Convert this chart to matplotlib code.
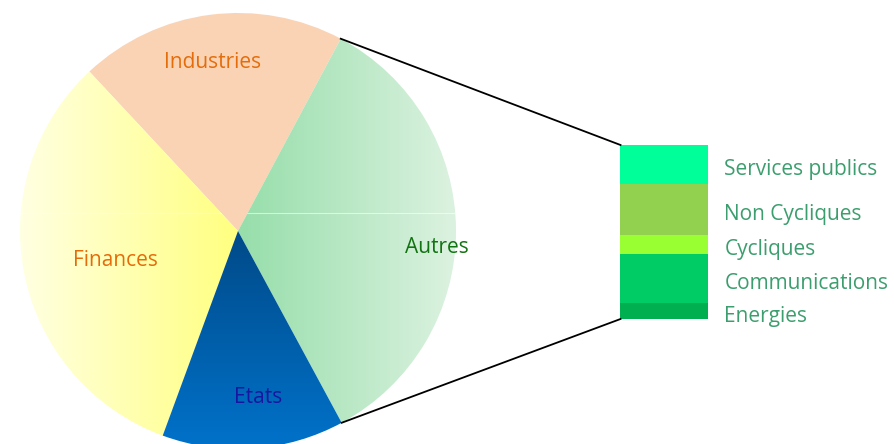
import matplotlib
matplotlib.use("Agg")
import matplotlib.pyplot as plt
import numpy as np
from matplotlib.colors import LinearSegmentedColormap

# main pie (percent)
main_labels = ["Autres", "Industries", "Finances", "Etats"]
main_values = [34.3, 19.75, 32.45, 13.5]
main_label_colors = ["#127312", "#E46C0A", "#E46C0A", "#1616A0"]
# label placement: (angle shift from wedge middle in degrees, radius fraction)
main_label_pos = [(-4.4, 0.915), (0.9, 0.79), (1.1, 0.574), (2.9, 0.758)]

# breakdown of "Autres", bottom to top
sub_labels = ["Energies", "Communications", "Cycliques", "Non Cycliques", "Services publics"]
sub_values = [3.15, 9.65, 3.75, 10.05, 7.7]
sub_colors = ["#00B050", "#00CC66", "#99FF33", "#92D050", "#00FF99"]

plt.rcParams["font.family"] = ["Open Sans", "DejaVu Sans"]

W, H = 895, 444
fig = plt.figure(figsize=(W / 100, H / 100), dpi=100)
ax = fig.add_axes([0, 0, 1, 1])

cx, cy, r = 238, 213, 218
wedges, _ = ax.pie(main_values, startangle=-61.6, counterclock=True,
                   center=(cx, cy), radius=r, frame=True)
ax.set_autoscale_on(False)

# gradient fills, clipped to each wedge
grads = {
    "Autres": ("h", "#96DEAA", "#DCF2E0", cx, cx + r),
    "Finances": ("h", "#FFFFE2", "#FFFF80", cx - r, cx),
    "Etats": ("v", "#0072CA", "#004A88", cy - r, cy),
}
for w, name in zip(wedges, main_labels):
    w.set_edgecolor("none")
    if name == "Industries":
        w.set_facecolor("#FAD3B5")
        continue
    kind, c0, c1, a, b = grads[name]
    w.set_facecolor("none")
    cmap = LinearSegmentedColormap.from_list(name, [c0, c1])
    g = np.linspace(0, 1, 256)
    if kind == "h":
        arr = g[None, :]
        ext = [a, b, cy - r, cy + r]
    else:
        arr = g[:, None]
        ext = [cx - r, cx + r, a, b]
    im = ax.imshow(arr, extent=ext, cmap=cmap, origin="lower",
                   aspect="auto", interpolation="bilinear", zorder=1)
    im.set_clip_path(w)

# faint seam line across the gradient wedges
for w in (wedges[0], wedges[2]):
    seam, = ax.plot([cx - r, cx + r], [cy + 18, cy + 18], color="white",
                    lw=0.8, alpha=0.6, zorder=2)
    seam.set_clip_path(w)

for w, name, col, (da, d) in zip(wedges, main_labels, main_label_colors, main_label_pos):
    mid = np.deg2rad((w.theta1 + w.theta2) / 2 + da)
    ax.text(cx + d * r * np.cos(mid), cy + d * r * np.sin(mid) - 2, name,
            color=col, fontsize=15, ha="center", va="center", zorder=3)

# stacked bar for the breakdown
bar_x, bar_w = 664.5, 88
bar_bottom, bar_h = 125, 174
scale = bar_h / sum(sub_values)
bottom = bar_bottom
for lab, v, col in zip(sub_labels, sub_values, sub_colors):
    ax.bar(bar_x, v * scale, bottom=bottom, width=bar_w, color=col, zorder=2)
    ax.text(bar_x + bar_w / 2 + 16, bottom + v * scale / 2 - 5, lab,
            color="#3C9E6E", fontsize=15, ha="left", va="center")
    bottom += v * scale

# lines from the "Autres" wedge to the bar
aw = wedges[0]
for th, by in [(aw.theta2, bar_bottom + bar_h), (aw.theta1, bar_bottom)]:
    t = np.deg2rad(th)
    ax.plot([cx + r * np.cos(t), bar_x - bar_w / 2], [cy + r * np.sin(t), by],
            color="black", lw=1.3, zorder=3)

ax.set_xlim(0, W)
ax.set_ylim(0, H)
ax.set_aspect("auto")
ax.axis("off")
fig.savefig("out.png", dpi=100)
